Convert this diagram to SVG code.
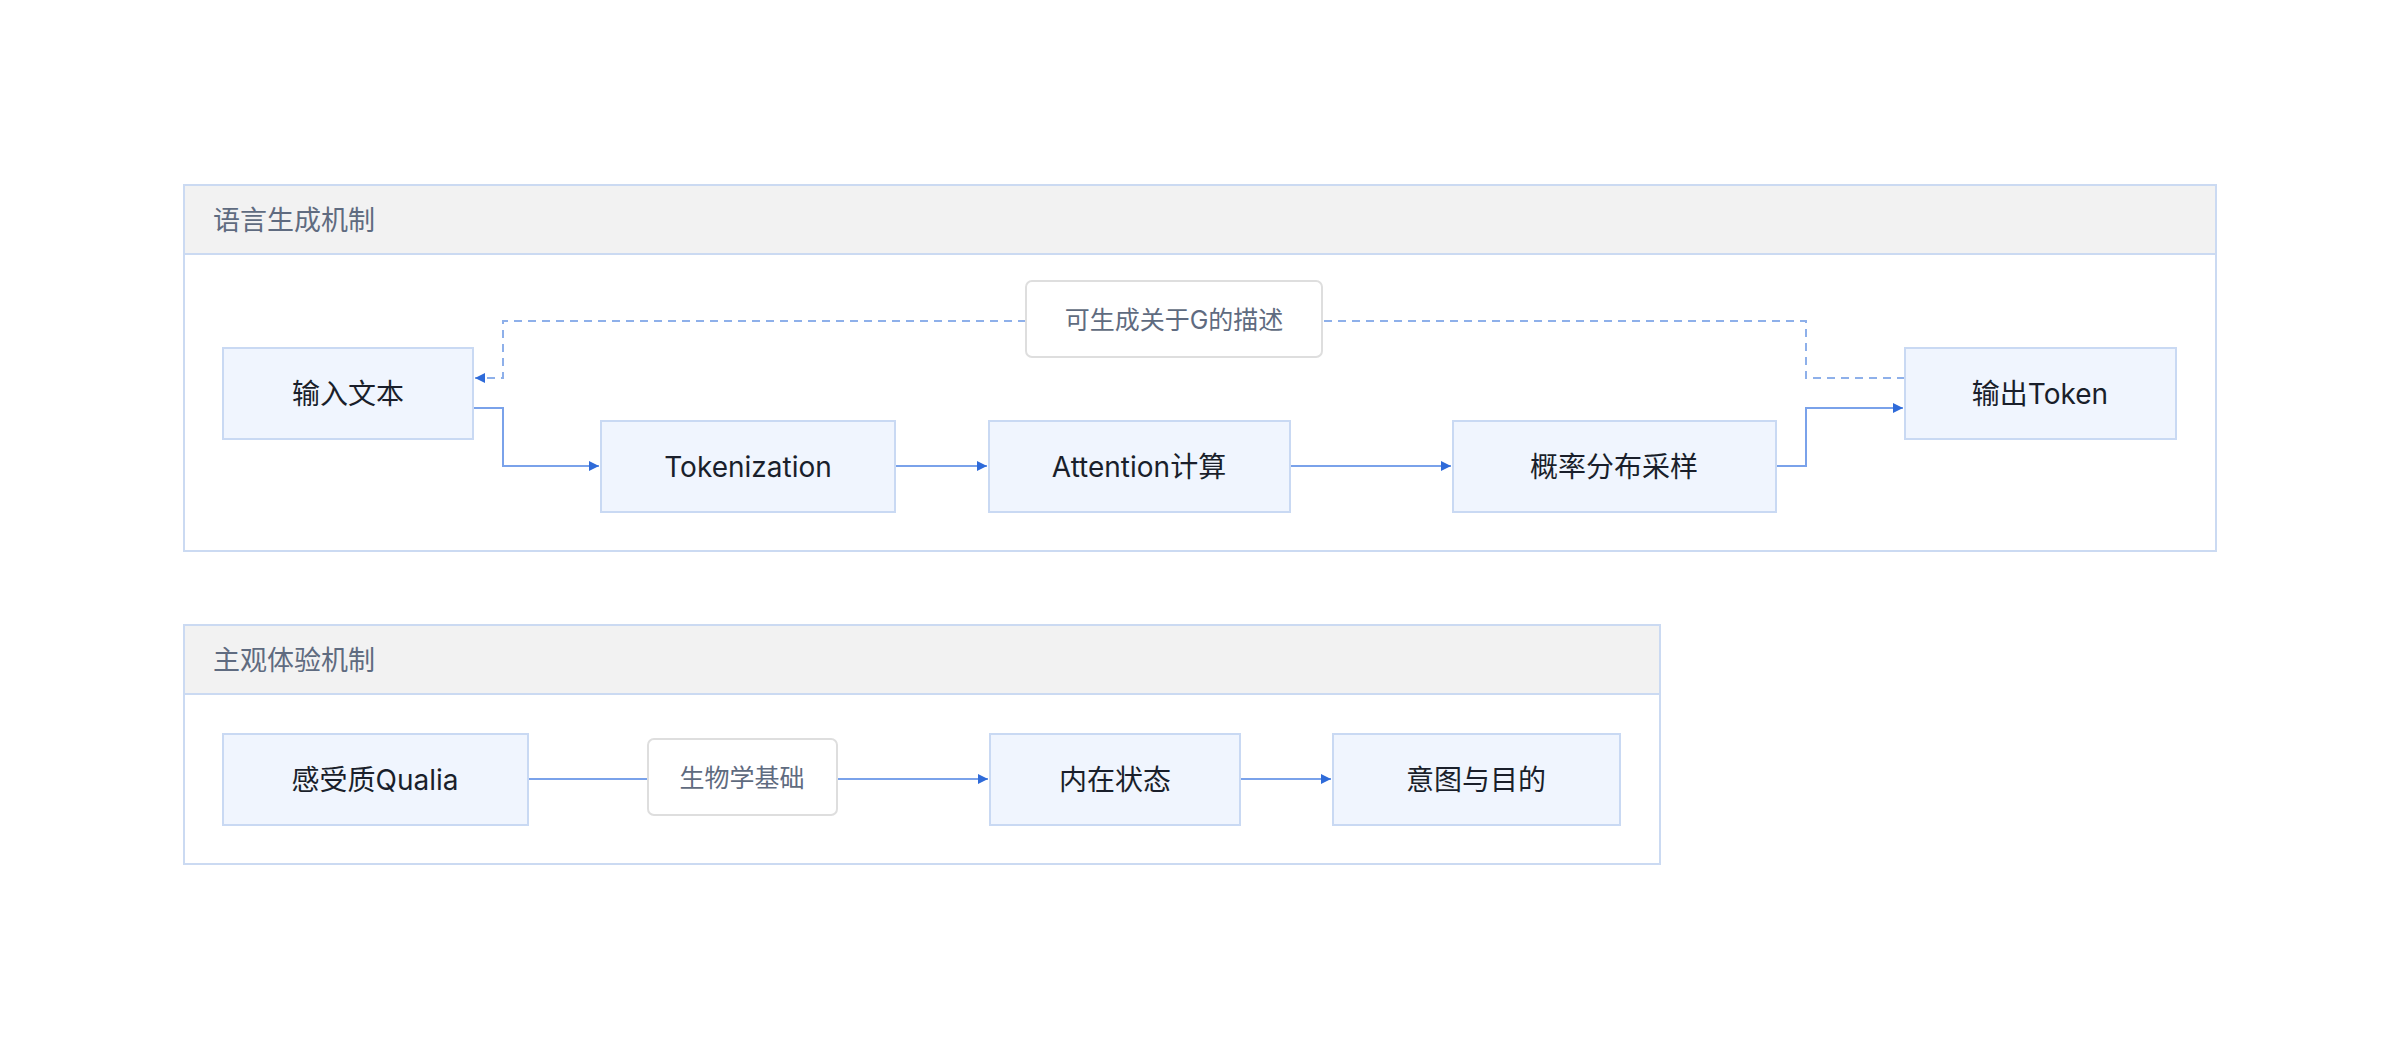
<svg xmlns="http://www.w3.org/2000/svg" width="2400" height="1050" viewBox="0 0 2400 1050">
<defs>
<marker id="ah" viewBox="0 0 10 10" refX="10" refY="5" markerWidth="10" markerHeight="10" markerUnits="userSpaceOnUse" orient="auto"><path d="M0,0 L10,5 L0,10 z" fill="#2f6bd9"/></marker>
<style>
text{font-family:"Inter","Noto Sans CJK SC",sans-serif;dominant-baseline:central;text-anchor:middle}
.cont{fill:#fff;stroke:#cbdaf2;stroke-width:2}
.hdr{fill:#f2f2f2;stroke:#cbdaf2;stroke-width:2}
.ttl{font-size:27px;fill:#5f6b80;text-anchor:start}
.node rect{fill:#f0f5fe;stroke:#c9d9f3;stroke-width:2}
.node text{font-size:28px;fill:#1a1f2b}
.lbl rect{fill:#fff;stroke:#dedede;stroke-width:2}
.lbl text{font-size:25px;fill:#5f6b80}
.e{fill:none;stroke:#7aa2ea;stroke-width:2}
.d{fill:none;stroke:#8eb0ea;stroke-width:2;stroke-dasharray:8 6}
</style>
</defs>
<g id="cluster1">
<rect class="cont" x="184" y="185" width="2032" height="366"/>
<rect class="hdr" x="184" y="185" width="2032" height="69"/>
<text class="ttl" x="213" y="220">语言生成机制</text>
</g>
<g id="cluster2">
<rect class="cont" x="184" y="625" width="1476" height="239"/>
<rect class="hdr" x="184" y="625" width="1476" height="69"/>
<text class="ttl" x="213" y="660">主观体验机制</text>
</g>
<g id="connectors">
<path class="e" d="M473,408 H503 V466 H599" marker-end="url(#ah)"/>
<path class="e" d="M895,466 H987" marker-end="url(#ah)"/>
<path class="e" d="M1290,466 H1451" marker-end="url(#ah)"/>
<path class="e" d="M1776,466 H1806 V408 H1903" marker-end="url(#ah)"/>
<path class="d" d="M1905,378 H1806 V321 H1322"/>
<path class="d" d="M1026,321 H503 V378 H475" marker-end="url(#ah)"/>
<path class="e" d="M528,779 H648"/>
<path class="e" d="M837,779 H988" marker-end="url(#ah)"/>
<path class="e" d="M1240,779 H1331" marker-end="url(#ah)"/>
</g>
<g id="n1" class="node"><rect x="223" y="348" width="250" height="91"/><text x="348" y="394">输入文本</text></g>
<g id="n2" class="node"><rect x="601" y="421" width="294" height="91"/><text x="748" y="467">Tokenization</text></g>
<g id="n3" class="node"><rect x="989" y="421" width="301" height="91"/><text x="1139" y="467">Attention计算</text></g>
<g id="n4" class="node"><rect x="1453" y="421" width="323" height="91"/><text x="1614" y="467">概率分布采样</text></g>
<g id="n5" class="node"><rect x="1905" y="348" width="271" height="91"/><text x="2040" y="394">输出Token</text></g>
<g id="l1" class="lbl"><rect x="1026" y="281" width="296" height="76" rx="6"/><text x="1174" y="320">可生成关于G的描述</text></g>
<g id="n6" class="node"><rect x="223" y="734" width="305" height="91"/><text x="375" y="780">感受质Qualia</text></g>
<g id="l2" class="lbl"><rect x="648" y="739" width="189" height="76" rx="6"/><text x="742" y="778">生物学基础</text></g>
<g id="n7" class="node"><rect x="990" y="734" width="250" height="91"/><text x="1115" y="780">内在状态</text></g>
<g id="n8" class="node"><rect x="1333" y="734" width="287" height="91"/><text x="1476" y="780">意图与目的</text></g>
</svg>
